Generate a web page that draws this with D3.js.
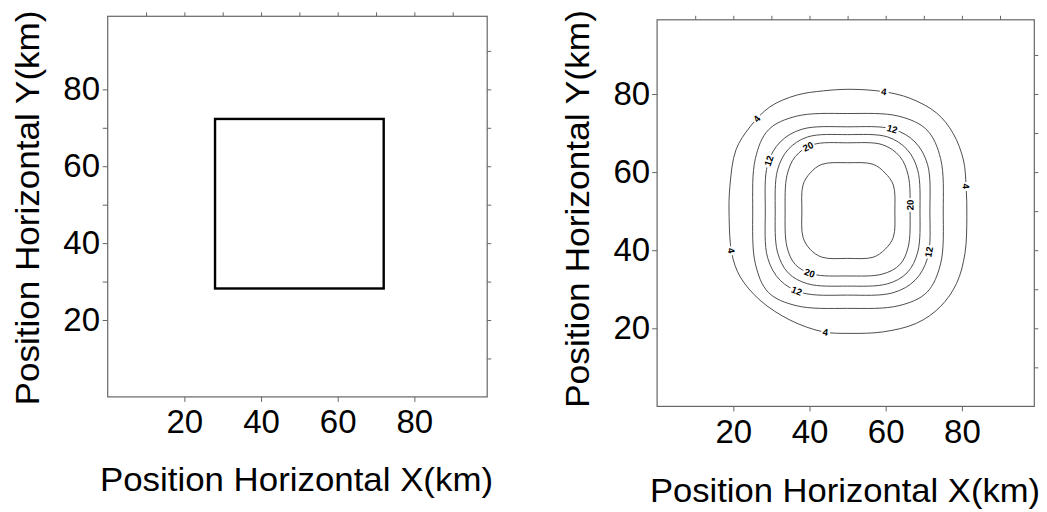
<!DOCTYPE html>
<html>
<head>
<meta charset="utf-8">
<script src="https://cdn.jsdelivr.net/npm/d3@7"></script>
<style>
  html, body { margin: 0; padding: 0; background: #fff; }
  svg { display: block; }
  text { font-family: "Liberation Sans", Arial, sans-serif; fill: #000; }
</style>
</head>
<body>
<svg id="chart" width="1047" height="512"></svg>
<script>
// ---------------- data ----------------
const xTickLabels = [20, 40, 60, 80];
const yTickLabels = [20, 40, 60, 80];
const minorTicks = [10, 20, 30, 40, 50, 60, 70, 80, 90];
const leftPanelYTicks = [20, 30, 40, 50, 60, 70, 80];
const axisDomain = [0, 99];

// source body (left panel): square prism outline, km
const squareX = [28, 72];
const squareY = [28.2, 72.3];

// contour levels (right panel)
const levels = [4, 8, 12, 16, 20, 24];

// contour lines, [x, y] in km
const contour4 = [[81.1,56.3],[80.4,63.1],[77.7,69.9],[73.4,75.1],[66.4,78.9],[59.4,80.6],[50.6,81.2],[43.6,80.8],[36.6,79.7],[29.6,76.7],[24.4,71.6],[20.7,65.7],[19.1,56.3],[18.9,48.6],[19.6,39.2],[21.8,33.2],[27.0,27.2],[34.9,22.1],[43.6,19.1],[50.6,18.7],[59.4,19.1],[68.1,21.3],[74.3,25.5],[78.6,31.5],[80.8,39.2],[81.3,48.6]];
const contour8 = [[75.1,50],[74.4,63.5],[70.8,70.8],[63.5,74.3],[50,75.0],[36.5,74.3],[29.2,70.8],[25.8,63.5],[25.1,50],[25.8,36.5],[29.2,29.2],[36.5,25.8],[50,25.1],[63.5,25.8],[70.8,29.2],[74.4,36.5]];
const contour12 = [[71.6,50],[71.0,61.9],[67.7,67.7],[61.9,71.0],[50,71.6],[38.1,71.0],[32.3,67.7],[29.0,61.9],[28.4,50],[29.0,38.1],[32.3,32.3],[38.1,29.1],[50,28.5],[61.9,29.1],[67.7,32.3],[71.0,38.1]];
const contour16 = [[69.0,50],[68.4,60.5],[65.6,65.8],[60.5,69.0],[50,69.6],[39.5,69.0],[34.4,65.8],[31.6,60.5],[31.0,50],[31.6,39.5],[34.4,34.2],[39.5,31.4],[50,30.8],[60.5,31.4],[65.6,34.2],[68.4,39.5]];
const contour20 = [[66.4,50],[65.9,59.2],[63.7,64.0],[59.2,67.0],[50,67.5],[40.8,67.0],[36.3,64.0],[34.1,59.2],[33.6,50],[34.1,40.8],[36.3,36.3],[40.8,33.9],[50,33.4],[59.2,33.9],[63.7,36.3],[65.9,40.8]];
const contour24 = [[62.4,50],[62.0,56.7],[59.8,59.8],[56.7,62.0],[50,62.4],[43.3,62.0],[40.2,59.8],[38.3,56.7],[38.0,50],[38.3,43.3],[40.2,40.2],[43.3,38.2],[50,37.9],[56.7,38.2],[59.8,40.2],[62.0,43.3]];

// contour labels: level and approximate location on the line (km)
const labelLevels = [4, 4, 4, 4, 4, 12, 12, 12, 12, 20, 20, 20];
const labelX = [59.4, 26.0, 80.8, 19.4, 44.1, 61.6, 29.5, 71.4, 36.6, 40.1, 66.6, 40.1];
const labelY = [80.4, 73.8, 56.3, 40.0, 19.0, 71.0, 62.7, 39.6, 29.2, 65.5, 51.6, 34.5];

const xTitle = "Position Horizontal X(km)";
const yTitle = "Position Horizontal Y(km)";

// ---------------- drawing ----------------
const svg = d3.select("#chart");
const contourLines = [contour4, contour8, contour12, contour16, contour20, contour24]
  .map((pts, i) => ({ level: levels[i], pts }));

function drawFrame(g, x, y, opt) {
  const [x0, x1] = x.range();
  const [y0, y1] = y.range();
  const tickColor = "#666";
  const bottom = g.append("g").attr("transform", `translate(0,${y0})`)
    .call(d3.axisBottom(x).tickValues(xTickLabels).tickSize(5).tickPadding(opt.xPad).tickSizeOuter(0).tickFormat(d3.format("d")));
  const left = g.append("g").attr("transform", `translate(${x0},0)`)
    .call(d3.axisLeft(y).tickValues(opt.leftTicks).tickSize(5).tickPadding(opt.yPad).tickSizeOuter(0)
      .tickFormat(d => yTickLabels.includes(d) ? d3.format("d")(d) : ""));
  const top = g.append("g").attr("transform", `translate(0,${y1})`)
    .call(d3.axisTop(x).tickValues(minorTicks).tickSize(4).tickSizeOuter(0).tickFormat(""));
  const right = g.append("g").attr("transform", `translate(${x1},0)`)
    .call(d3.axisRight(y).tickValues(minorTicks).tickSize(4).tickSizeOuter(0).tickFormat(""));
  [bottom, left, top, right].forEach(a => {
    a.select(".domain").remove();
    a.selectAll("line").attr("stroke", tickColor).attr("stroke-width", 1);
    a.selectAll("text").attr("font-size", 33).attr("fill", "#000")
      .attr("font-family", '"Liberation Sans", Arial, sans-serif');
  });
  g.append("rect")
    .attr("x", x0).attr("y", y1)
    .attr("width", x1 - x0).attr("height", y0 - y1)
    .attr("fill", "none").attr("stroke", "#666").attr("stroke-width", 1.2);
  g.append("text")
    .attr("x", opt.xTitleX).attr("y", opt.xTitleY)
    .attr("text-anchor", "middle").attr("font-size", 34)
    .attr("textLength", opt.xTitleLen).attr("lengthAdjust", "spacingAndGlyphs")
    .text(xTitle);
  g.append("text")
    .attr("transform", `translate(${opt.yTitleX},${opt.yTitleY}) rotate(-90)`)
    .attr("text-anchor", "middle").attr("font-size", 34)
    .attr("textLength", opt.yTitleLen).attr("lengthAdjust", "spacingAndGlyphs")
    .text(yTitle);
}

// ----- left panel -----
const xL = d3.scaleLinear().domain(axisDomain).range([107.7, 487.2]);
const yL = d3.scaleLinear().domain(axisDomain).range([396.9, 16.3]);
const gL = svg.append("g");
drawFrame(gL, xL, yL, {
  xPad: 7.6, yPad: 2.7, leftTicks: leftPanelYTicks,
  xTitleX: 296.5, xTitleY: 491, xTitleLen: 393,
  yTitleX: 39, yTitleY: 208, yTitleLen: 395
});
gL.append("rect")
  .attr("x", xL(squareX[0])).attr("y", yL(squareY[1]))
  .attr("width", xL(squareX[1]) - xL(squareX[0]))
  .attr("height", yL(squareY[0]) - yL(squareY[1]))
  .attr("fill", "none").attr("stroke", "#000").attr("stroke-width", 2.4);

// ----- right panel -----
const xR = d3.scaleLinear().domain(axisDomain).range([657.1, 1034.3]);
const yR = d3.scaleLinear().domain(axisDomain).range([406.4, 19.8]);
const gR = svg.append("g");
drawFrame(gR, xR, yR, {
  xPad: 8.2, yPad: 2, leftTicks: yTickLabels,
  xTitleX: 845, xTitleY: 502, xTitleLen: 390,
  yTitleX: 589, yTitleY: 209, yTitleLen: 398
});

const line = d3.line()
  .x(d => xR(d[0])).y(d => yR(d[1]))
  .curve(d3.curveCatmullRomClosed.alpha(0.5));

const paths = {};
gR.append("g").selectAll("path")
  .data(contourLines)
  .join("path")
  .attr("d", d => line(d.pts))
  .attr("fill", "none")
  .attr("stroke", "#3a3a3a")
  .attr("stroke-width", 0.9)
  .each(function(d) { paths[d.level] = this; });

// contour labels, aligned to the line's tangent
const labelG = gR.append("g");
labelLevels.forEach((lev, i) => {
  const p = paths[lev];
  const L = p.getTotalLength();
  const tx = xR(labelX[i]), ty = yR(labelY[i]);
  let best = 0, bestD = Infinity;
  const N = 600;
  for (let k = 0; k < N; k++) {
    const pt = p.getPointAtLength(L * k / N);
    const dd = (pt.x - tx) ** 2 + (pt.y - ty) ** 2;
    if (dd < bestD) { bestD = dd; best = L * k / N; }
  }
  const c = p.getPointAtLength(best);
  const a = p.getPointAtLength(Math.max(0, best - 3));
  const b = p.getPointAtLength(Math.min(L, best + 3));
  let ang = Math.atan2(b.y - a.y, b.x - a.x) * 180 / Math.PI;
  if (ang > 90) ang -= 180;
  if (ang <= -90) ang += 180;
  const g = labelG.append("g").attr("transform", `translate(${c.x},${c.y}) rotate(${ang})`);
  const t = g.append("text")
    .attr("text-anchor", "middle").attr("dy", "0.35em")
    .attr("font-size", 9.5).attr("font-weight", "bold").attr("fill", "#222")
    .text(lev);
  const bb = t.node().getBBox();
  g.insert("rect", "text")
    .attr("x", bb.x - 1.5).attr("y", bb.y + 1)
    .attr("width", bb.width + 3).attr("height", bb.height - 2)
    .attr("fill", "#fff");
});
</script>
</body>
</html>
